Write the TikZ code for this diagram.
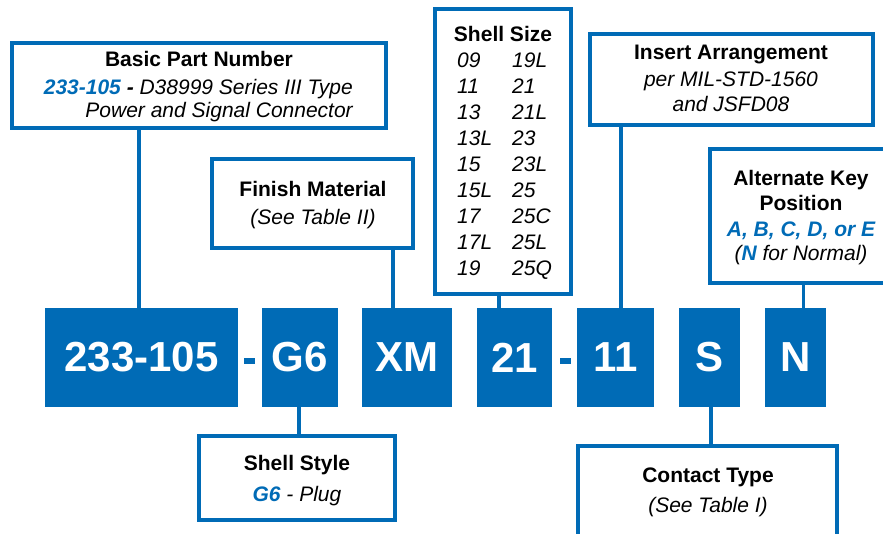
\documentclass[tikz,border=0pt]{standalone}
\usepackage{fontspec}
\setmainfont{Liberation Sans}
\definecolor{pnblue}{HTML}{006BB6}
\tikzset{
  lbl/.style={inner sep=0pt, anchor=base, font=\fontsize{21}{25}\selectfont},
  hd/.style={lbl, font=\fontsize{21}{25}\selectfont\bfseries},
  itx/.style={lbl, font=\fontsize{21}{25}\selectfont\itshape},
  infobox/.style={draw=pnblue, line width=3.5pt, rectangle, inner sep=0pt},
  codebox/.style={fill=pnblue, text=white, inner sep=0pt, minimum height=99pt,
    font=\fontsize{42}{50}\selectfont\bfseries},
  dashbox/.style={fill=pnblue, inner sep=0pt, minimum width=11pt, minimum height=6pt},
  conn/.style={draw=pnblue, line width=3.5pt},
}
\begin{document}
\begin{tikzpicture}[x=1pt,y=-1pt]
\useasboundingbox (0,0) rectangle (883,534);
\clip (0,0) rectangle (883,534);

% code boxes
\node[codebox, minimum width=193pt]  (c1) at (141.5,357.5) {233-105};
\node[codebox, minimum width=76.5pt] (c2) at (299.75,357.5) {G6};
\node[codebox, minimum width=89.5pt] (c3) at (406.75,357.5) {XM};
\node[codebox, minimum width=75pt]   (c4) at (514.5,357.5) {21};
\node[codebox, minimum width=77pt]   (c5) at (615.5,357.5) {11};
\node[codebox, minimum width=61pt]   (c6) at (709.5,357.5) {S};
\node[codebox, minimum width=61pt]   (c7) at (795.5,357.5) {N};
\node[dashbox] (d1) at (249.5,361) {};
\node[dashbox] (d2) at (565,361) {};

% info boxes
\node[infobox, minimum width=374pt, minimum height=85pt]  (basic)  at (199,85.5) {};
\node[infobox, minimum width=201pt, minimum height=89pt]  (finish) at (312.5,203.5) {};
\node[infobox, minimum width=136pt, minimum height=285pt] (ssize)  at (503,151.5) {};
\node[infobox, minimum width=283pt, minimum height=91pt]  (insert) at (731.5,79.5) {};
\node[infobox, minimum width=185pt, minimum height=134pt] (altkey) at (802.5,216) {};
\node[infobox, minimum width=196pt, minimum height=84pt]  (sstyle) at (297,478) {};
\node[infobox, minimum width=259pt, minimum height=99pt]  (ctype)  at (707.5,495.5) {};

% connectors
\coordinate (k1) at (139,0);
\coordinate (k3) at (393,0);
\coordinate (k4) at (499,0);
\coordinate (k5) at (621,0);
\coordinate (k7) at (803.5,0);
\coordinate (k2) at (299,0);
\coordinate (k6) at (711,0);
\draw[conn] (k1 |- basic.south) -- (k1 |- c1.north);
\draw[conn] (k3 |- finish.south) -- (k3 |- c3.north);
\draw[conn] (k4 |- ssize.south) -- (k4 |- c4.north);
\draw[conn] (k5 |- insert.south) -- (k5 |- c5.north);
\draw[conn] (k7 |- altkey.south) -- (k7 |- c7.north);
\draw[conn] (k2 |- c2.south) -- (k2 |- sstyle.north);
\draw[conn] (k6 |- c6.south) -- (k6 |- ctype.north);

% texts
\node[hd] (bt1) at (199,67) {Basic Part Number};
\node[itx, anchor=base east] (bt2) at (353,95) {\textcolor{pnblue}{\bfseries 233-105} {\bfseries -} D38999 Series III Type};
\node[itx, anchor=base east] (bt3) at (353,118) {Power and Signal Connector};

\node[hd] (st) at (503,42) {Shell Size};
\foreach \a/\b [count=\i] in {09/19L,11/21,13/21L,13L/23,15/23L,15L/25,17/25C,17L/25L,19/25Q}{
  \node[itx, anchor=base west] (sa\i) at (457,42+26*\i) {\a};
  \node[itx, anchor=base west] (sb\i) at (512,42+26*\i) {\b};
}

\node[hd]  (it1) at (731,60) {Insert Arrangement};
\node[itx] (it2) at (731,87) {per MIL-STD-1560};
\node[itx] (it3) at (731,112) {and JSFD08};

\node[hd]  (ak1) at (801,186) {Alternate Key};
\node[hd]  (ak2) at (801,211) {Position};
\node[itx] (ak3) at (801,237) {\textcolor{pnblue}{\bfseries A, B, C, D, or E}};
\node[itx] (ak4) at (801,261) {(\textcolor{pnblue}{\bfseries N} for Normal)};

\node[hd]  (f1) at (313,197) {Finish Material};
\node[itx] (f2) at (313,225) {(See Table II)};

\node[hd]  (ss1) at (297,470) {Shell Style};
\node[itx] (ss2) at (297,501) {\textcolor{pnblue}{\bfseries G6} - Plug};

\node[hd]  (ct1) at (708,482) {Contact Type};
\node[itx] (ct2) at (708,512) {(See Table I)};
\end{tikzpicture}
\end{document}
